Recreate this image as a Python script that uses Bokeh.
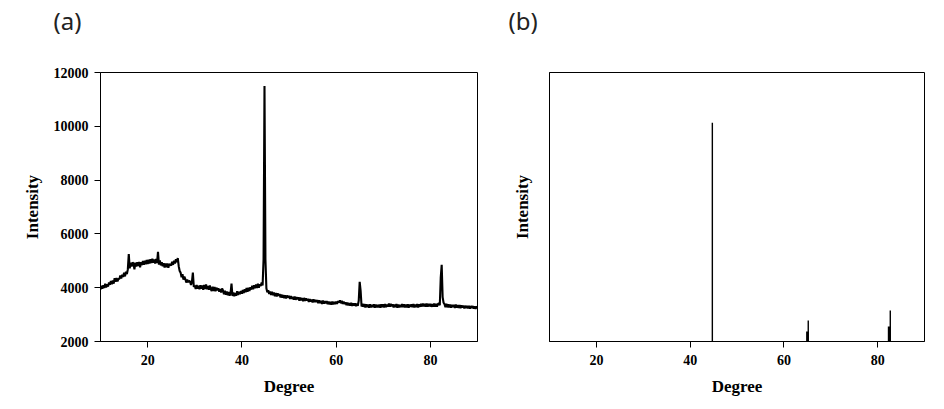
import numpy as np
from bokeh.plotting import figure
from bokeh.layouts import row
from bokeh.models import Range1d, FixedTicker, Title
from bokeh.embed import file_html
from bokeh.resources import INLINE

# ---------------- data ----------------
# panel (a): measured XRD pattern, sampled every 0.2 degree from 10 to 90
two_theta = np.round(np.arange(10, 90.01, 0.2), 1)
intensity_a = [
    3930, 4070, 3960, 4090, 3990,
    4150, 4010, 4130, 4040, 4190,
    4110, 4250, 4130, 4270, 4150,
    4350, 4220, 4360, 4230, 4330,
    4320, 4450, 4340, 4480, 4400,
    4560, 4420, 4590, 4510, 4680,
    5250, 4720, 4930, 4790, 4940,
    4900, 4680, 4930, 4790, 4950,
    4810, 4960, 4760, 4950, 4840,
    4990, 4850, 5000, 4870, 5030,
    4880, 5040, 4900, 5060, 4920,
    5080, 4930, 5050, 4900, 5070,
    4920, 5330, 4860, 5010, 4830,
    4950, 4800, 4910, 4750, 4900,
    4760, 4900, 4740, 4880, 4850,
    4830, 4960, 4850, 5000, 4900,
    5060, 4950, 5100, 4800, 4620,
    4560, 4390, 4500, 4300, 4410,
    4320, 4190, 4300, 4200, 4260,
    4230, 4100, 4220, 4560, 4030,
    4080, 3950, 4100, 3960, 4070,
    3940, 4090, 3960, 4080, 3920,
    4100, 3950, 4120, 3940, 4060,
    3920, 4080, 3940, 3880, 4040,
    3880, 4030, 3870, 4000, 3900,
    3980, 3850, 3950, 3820, 3970,
    3900, 3760, 3890, 3740, 3860,
    3720, 3840, 3700, 3800, 4150,
    3690, 3820, 3680, 3800, 3700,
    3870, 3730, 3850, 3760, 3880,
    3780, 3910, 3800, 3940, 3830,
    3990, 3850, 4000, 3880, 4020,
    3930, 4070, 3940, 4090, 3980,
    4120, 3990, 4150, 4000, 4130,
    4060, 4190, 4080, 5050, 11500,
    5050, 3980, 3830, 3900, 3770,
    3860, 3730, 3850, 3720, 3820,
    3680, 3800, 3670, 3790, 3700,
    3760, 3640, 3750, 3630, 3730,
    3610, 3720, 3600, 3710, 3630,
    3700, 3580, 3690, 3590, 3660,
    3560, 3670, 3550, 3650, 3570,
    3640, 3520, 3630, 3530, 3610,
    3500, 3620, 3510, 3600, 3520,
    3590, 3470, 3580, 3480, 3560,
    3450, 3570, 3460, 3550, 3470,
    3540, 3420, 3530, 3430, 3510,
    3400, 3520, 3410, 3500, 3420,
    3500, 3390, 3480, 3380, 3470,
    3370, 3480, 3380, 3470, 3390,
    3480, 3400, 3500, 3450, 3530,
    3420, 3510, 3400, 3480, 3390,
    3460, 3350, 3450, 3340, 3430,
    3330, 3440, 3320, 3420, 3340,
    3420, 3310, 3410, 3330, 3520,
    4220, 3880, 3300, 3400, 3290,
    3390, 3270, 3380, 3280, 3370,
    3260, 3380, 3270, 3360, 3280,
    3380, 3260, 3370, 3270, 3360,
    3270, 3370, 3260, 3380, 3280,
    3380, 3270, 3390, 3280, 3370,
    3300, 3410, 3290, 3400, 3310,
    3380, 3270, 3370, 3280, 3390,
    3260, 3370, 3270, 3360, 3280,
    3390, 3280, 3380, 3270, 3370,
    3270, 3380, 3260, 3370, 3290,
    3380, 3280, 3390, 3270, 3370,
    3280, 3390, 3270, 3380, 3290,
    3400, 3300, 3410, 3310, 3400,
    3300, 3410, 3290, 3400, 3310,
    3400, 3290, 3390, 3300, 3410,
    3290, 3400, 3300, 3390, 3420,
    3350, 4380, 4850, 3650, 3440,
    3390, 3280, 3400, 3270, 3380,
    3270, 3370, 3260, 3360, 3280,
    3360, 3250, 3370, 3260, 3350,
    3250, 3350, 3240, 3340, 3260,
    3340, 3230, 3330, 3240, 3320,
    3230, 3330, 3220, 3320, 3240,
    3320, 3220, 3310, 3210, 3300,
    3260,
]

# panel (b): reference stick pattern (relative intensity)
ref_pos_tall = [44.74, 65.2, 82.7]
ref_int_tall = [100.0, 9.6, 14.2]
ref_pos_short = [65.02, 82.45]
ref_int_short = [4.6, 6.9]

x_ticks = [20, 40, 60, 80]
y_ticks_a = [2000, 4000, 6000, 8000, 10000, 12000]

TICK_FONT = "Liberation Serif"
LABEL_FONT = "Liberation Serif"


def style(p):
    p.outline_line_color = "black"
    p.outline_line_width = 1
    p.xgrid.visible = False
    p.ygrid.visible = False
    for ax in (p.xaxis[0], p.yaxis[0]):
        ax.axis_line_color = "black"
        ax.major_tick_line_color = "black"
        ax.minor_tick_line_color = None
        ax.major_tick_in = 0
        ax.major_tick_out = 6
        ax.major_label_text_font = TICK_FONT
        ax.major_label_text_font_style = "bold"
        ax.major_label_text_font_size = "14px"
        ax.major_label_text_color = "black"
        ax.axis_label_text_font = LABEL_FONT
        ax.axis_label_text_font_style = "bold"
        ax.axis_label_text_font_size = "17px"
        ax.axis_label_text_color = "black"
    p.xaxis[0].ticker = FixedTicker(ticks=x_ticks)
    p.xaxis[0].major_label_standoff = 7
    p.xaxis[0].axis_label = "Degree"
    p.xaxis[0].axis_label_standoff = 9
    p.yaxis[0].axis_label = "Intensity"


def add_panel_title(p, text, offset):
    # spacer first (closest to the frame), then the panel letter above it
    p.add_layout(Title(text=" ", text_font_size="10px", standoff=21), "above")
    p.add_layout(Title(text=text, align="left", vertical_align="top", offset=offset, standoff=0,
                       text_font="Noto Sans", text_font_size="24px",
                       text_font_style="normal", text_color="#222222"), "above")


# ---------------- panel (a) ----------------
pa = figure(width=505, height=409, output_backend="svg", toolbar_location=None,
            x_range=Range1d(10, 90), y_range=Range1d(2000, 12000),
            min_border_left=100, min_border_right=28,
            min_border_top=72, min_border_bottom=68)
style(pa)
pa.yaxis[0].ticker = FixedTicker(ticks=y_ticks_a)
pa.yaxis[0].major_label_standoff = 6
pa.yaxis[0].axis_label_standoff = 9
pa.line(two_theta, intensity_a, line_color="black", line_width=2.1)
add_panel_title(pa, "(a)", -47)

# ---------------- panel (b) ----------------
pb = figure(width=439, height=409, output_backend="svg", toolbar_location=None,
            x_range=Range1d(10, 90), y_range=Range1d(0, 123),
            min_border_left=44, min_border_right=20,
            min_border_top=72, min_border_bottom=68)
style(pb)
pb.yaxis[0].ticker = FixedTicker(ticks=[])
pb.yaxis[0].major_tick_out = 0
pb.yaxis[0].axis_label_standoff = 18
pb.segment(x0=ref_pos_tall, y0=[0] * len(ref_pos_tall), x1=ref_pos_tall, y1=ref_int_tall,
           line_color="black", line_width=1.4)
pb.segment(x0=ref_pos_short, y0=[0] * len(ref_pos_short), x1=ref_pos_short, y1=ref_int_short,
           line_color="black", line_width=2.6)
add_panel_title(pb, "(b)", -41)

layout = row(pa, pb, spacing=0)
open("out.html", "w").write(file_html(layout, INLINE))
